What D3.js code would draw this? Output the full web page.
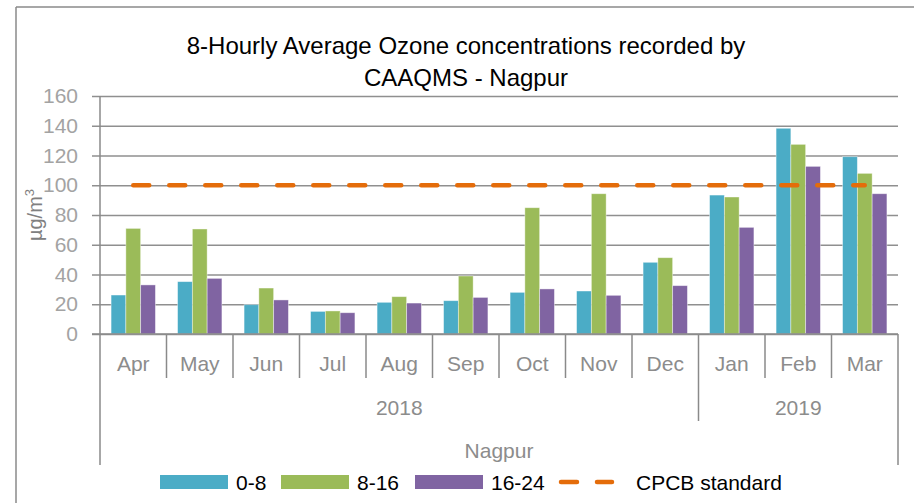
<!DOCTYPE html>
<html>
<head>
<meta charset="utf-8">
<script src="https://cdn.jsdelivr.net/npm/d3@7"></script>
<style>
  html, body { margin: 0; padding: 0; background: #fff; }
  svg { display: block; font-family: "Liberation Sans", Arial, sans-serif; }
</style>
</head>
<body>
<svg id="chart" width="914" height="503"></svg>
<script>
// ---- data ----
const months = ["Apr","May","Jun","Jul","Aug","Sep","Oct","Nov","Dec","Jan","Feb","Mar"];
const years = [{label:"2018", from:0, to:9}, {label:"2019", from:9, to:12}];
const seriesNames = ["0-8","8-16","16-24"];
const s0_8   = [26.2, 35.2, 19.7, 15.2, 21.3, 22.4, 28.0, 28.9, 48.2, 93.4, 138.3, 119.2];
const s8_16  = [71.0, 70.6, 30.9, 15.5, 25.1, 39.0, 84.9, 94.3, 51.3, 92.1, 127.5, 108.0];
const s16_24 = [33.0, 37.4, 22.9, 14.3, 20.8, 24.6, 30.3, 26.0, 32.5, 71.7, 112.7, 94.3];
const cpcb   = [100,100,100,100,100,100,100,100,100,100,100,100];
const yTicks = [0,20,40,60,80,100,120,140,160];
const colors = ["#4BACC6","#9BBB59","#8064A2"];
const cpcbColor = "#E46C0A";

const seriesVals = [s0_8, s8_16, s16_24];

const svg = d3.select("#chart");
const X0 = 100, X1 = 898, Y0 = 334, Y1 = 96;

const x = d3.scaleBand().domain(months).range([X0, X1]).padding(0);
const xs = d3.scaleBand().domain(seriesNames).range([0, x.bandwidth()]).paddingInner(0).paddingOuter(0.75);
const y = d3.scaleLinear().domain([0,160]).range([Y0, Y1]);

const gridColor = "#8f8f8f";

// frame
svg.append("line").attr("x1",16).attr("x2",914).attr("y1",7).attr("y2",7).attr("stroke","#8a8a8a").attr("stroke-width",1.5);
svg.append("line").attr("x1",16).attr("x2",16).attr("y1",7).attr("y2",503).attr("stroke","#8a8a8a").attr("stroke-width",1.5);

// title
const title = svg.append("text").attr("text-anchor","middle").attr("fill","#000").attr("font-size",24);
title.append("tspan").attr("x",466).attr("y",54).text("8-Hourly Average Ozone concentrations recorded by");
title.append("tspan").attr("x",466).attr("y",86).text("CAAQMS - Nagpur");

// y axis with gridlines
const yAxis = d3.axisLeft(y).tickValues(yTicks).tickSize(-(X1 - X0)).tickSizeOuter(0).tickPadding(22);
const gy = svg.append("g").attr("transform",`translate(${X0},0)`).call(yAxis);
gy.select(".domain").remove();
gy.selectAll(".tick line").attr("x1",-8).attr("stroke",gridColor).attr("stroke-width",1.5);
gy.selectAll(".tick text").attr("fill","#a3a3a3").attr("font-size",21).attr("font-family","Liberation Sans, Arial, sans-serif");

// y label
const yl = svg.append("text").attr("transform",`translate(42,${(Y0+Y1)/2}) rotate(-90)`).attr("text-anchor","middle")
  .attr("fill","#808080").attr("font-size",20);
yl.append("tspan").text("µg/m");
yl.append("tspan").attr("dy",-8).attr("font-size",13).text("3");

// bars
const groups = svg.append("g").selectAll("g").data(seriesNames).join("g")
  .attr("fill",(d,i)=>colors[i]);
groups.selectAll("rect").data((d,i)=>months.map((m,j)=>({m, s:d, v:seriesVals[i][j]}))).join("rect")
  .attr("x",d=>x(d.m)+xs(d.s))
  .attr("width",xs.bandwidth())
  .attr("y",d=>y(d.v))
  .attr("height",d=>Y0 - y(d.v))
  .attr("stroke","#ffffff").attr("stroke-opacity",0.5).attr("stroke-width",0.8);

// category axis
const axisColor = "#8a8a8a";
svg.append("line").attr("x1",92).attr("x2",X1).attr("y1",Y0).attr("y2",Y0).attr("stroke",axisColor).attr("stroke-width",1.5);
svg.append("line").attr("x1",X0).attr("x2",X0).attr("y1",Y1).attr("y2",Y0).attr("stroke",axisColor).attr("stroke-width",1.5);
const boundaries = d3.range(months.length + 1);
svg.append("g").selectAll("line").data(boundaries).join("line")
  .attr("x1",i=> i < months.length ? x(months[i]) : X1)
  .attr("x2",i=> i < months.length ? x(months[i]) : X1)
  .attr("y1",Y0)
  .attr("y2",i=> (i===0 || i===months.length) ? 465 : (years.some(yr=>yr.from===i) ? 421 : 378))
  .attr("stroke",axisColor).attr("stroke-width",1.5);

svg.append("g").selectAll("text").data(months).join("text")
  .attr("x",d=>x(d)+x.bandwidth()/2).attr("y",371)
  .attr("text-anchor","middle").attr("fill","#8c8c8c").attr("font-size",21).text(d=>d);

svg.append("g").selectAll("text").data(years).join("text")
  .attr("x",d=>{ const a = x(months[d.from]); const b = d.to < months.length ? x(months[d.to]) : X1; return (a+b)/2; })
  .attr("y",415).attr("text-anchor","middle").attr("fill","#8c8c8c").attr("font-size",21).text(d=>d.label);

svg.append("text").attr("x",(X0+X1)/2).attr("y",458).attr("text-anchor","middle")
  .attr("fill","#8c8c8c").attr("font-size",21).text("Nagpur");

// CPCB standard line
const line = d3.line().x((d,i)=>x(months[i]) + x.bandwidth()/2).y(d=>y(d));
svg.append("path").datum(cpcb).attr("d",line).attr("fill","none")
  .attr("stroke",cpcbColor).attr("stroke-width",4.5).attr("stroke-linecap","round")
  .attr("stroke-dasharray","16,20");

// legend
const leg = svg.append("g");
const swX = [160, 281, 415];
const txX = [236, 357, 491];
seriesNames.forEach((n,i)=>{
  leg.append("rect").attr("x",swX[i]).attr("y",475).attr("width",68).attr("height",14).attr("fill",colors[i]);
  leg.append("text").attr("x",txX[i]).attr("y",490).attr("fill","#000").attr("font-size",21).text(n);
});
leg.append("line").attr("x1",561).attr("x2",612).attr("y1",482).attr("y2",482)
  .attr("stroke",cpcbColor).attr("stroke-width",4.5).attr("stroke-linecap","round").attr("stroke-dasharray","16,20");
leg.append("text").attr("x",636).attr("y",490).attr("fill","#000").attr("font-size",21).text("CPCB standard");
</script>
</body>
</html>
